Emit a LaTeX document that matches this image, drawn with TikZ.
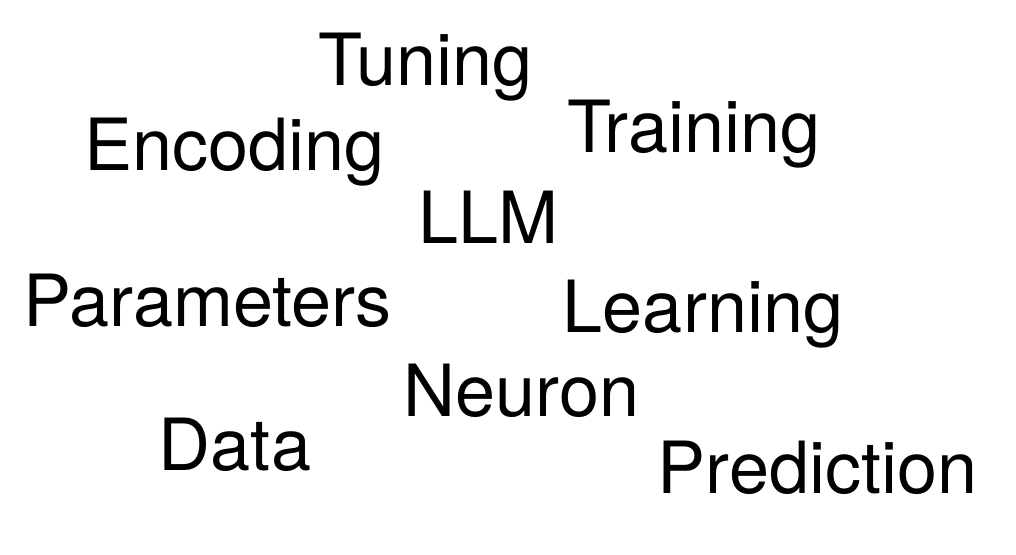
\documentclass[tikz,border=0pt]{standalone}
\usepackage{fontspec}
\setmainfont{TeX Gyre Heros}
\begin{document}
\begin{tikzpicture}[x=1pt,y=-1pt,
  word/.style={inner sep=0pt,anchor=base,font=\fontsize{72}{72}\selectfont}]
\useasboundingbox[fill=white] (0,0) rectangle (1016,554);
\node[word] (tuning) at (425.5,85) {Tuning};
\node[word] (encoding) at (234.5,170) {Encoding};
\node[word] (training) at (694,152) {Training};
\node[word] (llm) at (488.5,243) {LLM};
\node[word] (parameters) at (208,326) {Parameters};
\node[word] (learning) at (703,332) {Learning};
\node[word] (neuron) at (521.5,416) {Neuron};
\node[word] (data) at (235,470) {Data};
\node[word] (prediction) at (817.5,493) {Prediction};
\end{tikzpicture}
\end{document}
